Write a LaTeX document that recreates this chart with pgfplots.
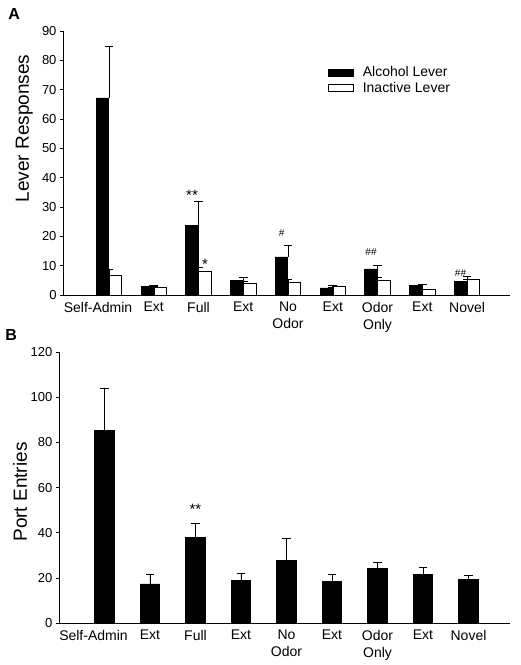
\documentclass[border=0pt]{standalone}
\usepackage{pgfplots}
\pgfplotsset{compat=1.18}
\usepackage{fontspec}
\setmainfont{Liberation Sans}
\pgfplotsset{
  panel/.style={
    scale only axis,
    axis x line*=bottom, axis y line*=left,
    axis line style={line width=0.8pt, black},
    xtick={1,...,9},
    x tick style={draw=none},
    y tick style={line width=0.8pt, black},
    tick align=outside, major tick length=3.5bp,
    xticklabel style={font=\fontsize{14bp}{17bp}\selectfont, align=center},
    yticklabel style={font=\fontsize{13bp}{15bp}\selectfont},
    /pgf/number format/assume math mode=true,
    ymin=0,
    clip=false,
    error bars/y dir=plus, error bars/y explicit,
    error bars/error bar style={line width=0.8pt, black},
    error bars/error mark options={rotate=90, mark size=4.3bp, line width=0.8pt, black},
    ylabel style={font=\fontsize{19bp}{21bp}\selectfont, anchor=center},
  },
}
\begin{document}
\begin{tikzpicture}
\path[use as bounding box] (0,0) rectangle (521bp,-665bp);

% Panel A
\begin{axis}[panel,
  at={(63.5bp,-295bp)}, anchor=south west,
  width=446.5bp, height=264bp,
  xmin=-0.017, xmax=9.96, ymax=90,
  ytick={0,10,...,90},
  xticklabels={{\makebox[0pt][c]{\hspace*{-22bp}Self-Admin}},Ext,Full,Ext,{No\\Odor},Ext,{Odor\\Only},Ext,Novel},
  ylabel={Lever Responses},
  ylabel style={at={(axis description cs:-0.088,0.631)}},
  legend style={draw=none, fill=none, at={(axis description cs:0.592,0.865)}, anchor=north west,
    font=\fontsize{14bp}{16bp}\selectfont, row sep=4bp, column sep=0bp, inner sep=0pt,
    nodes={inner sep=0pt}},
  legend cell align=left,
  legend image code/.code={\draw[#1] (0bp,-3.5bp) rectangle (25bp,3.5bp); \path (34bp,0bp);},
]
\addplot[ybar, bar width=12.5bp, bar shift=-6.5bp, fill=black, draw=black, line width=0.6pt]
  coordinates {(1,67.2)+-(0,17.7) (2,2.8)+-(0,0.6) (3,23.7)+-(0,8.1) (4,5.0)+-(0,1.0)
               (5,13.0)+-(0,3.8) (6,2.4)+-(0,0.3) (7,8.9)+-(0,1.3) (8,3.3)+-(0,0.2) (9,4.6)+-(0,0.6)};
\addlegendentry{Alcohol Lever}
\addplot[ybar, bar width=12.5bp, bar shift=6.5bp, fill=white, draw=black, line width=0.8pt]
  coordinates {(1,6.7)+-(0,1.9) (2,2.5)+-(0,0.55) (3,8.2)+-(0,1.3) (4,3.8)+-(0,0.9)
               (5,4.3)+-(0,1.0) (6,2.8)+-(0,0.4) (7,5.0)+-(0,0.9) (8,1.8)+-(0,0) (9,5.3)+-(0,1.0)};
\addlegendentry{Inactive Lever}
\node[font=\fontsize{15bp}{15bp}\selectfont] at (axis cs:2.855,34.0) {**};
\node[font=\fontsize{15bp}{15bp}\selectfont] at (axis cs:3.145,10.6) {*};
\node[font=\fontsize{10bp}{10bp}\selectfont] at (axis cs:4.855,21.0) {\#};
\node[font=\fontsize{10bp}{10bp}\selectfont] at (axis cs:6.855,14.6) {\#\#};
\node[font=\fontsize{10bp}{10bp}\selectfont] at (axis cs:8.855,7.6) {\#\#};
\node[anchor=base west, inner sep=0pt, font=\bfseries\fontsize{16bp}{16bp}\selectfont]
  at (axis description cs:-0.124,1.045) {A};
\end{axis}

% Panel B
\begin{axis}[panel,
  at={(59.3bp,-623.3bp)}, anchor=south west,
  width=450.7bp, height=271.3bp,
  xmin=0.007, xmax=9.912, ymax=120,
  ytick={0,20,...,120},
  xticklabels={{\makebox[0pt][c]{\hspace*{-22bp}Self-Admin}},Ext,Full,Ext,{No\\Odor},Ext,{Odor\\Only},Ext,Novel},
  ylabel={Port Entries},
  ylabel style={at={(axis description cs:-0.087,0.484)}},
]
\addplot[ybar, bar width=19.5bp, bar shift=0bp, fill=black, draw=black, line width=0.6pt]
  coordinates {(1,85.4)+-(0,18.7) (2,17.4)+-(0,4.2) (3,38.0)+-(0,6.2) (4,18.9)+-(0,3.0)
               (5,28.0)+-(0,9.4) (6,18.4)+-(0,3.2) (7,24.3)+-(0,2.7) (8,21.6)+-(0,3.3) (9,19.3)+-(0,1.8)};
\node[font=\fontsize{15bp}{15bp}\selectfont] at (axis cs:3,50.5) {**};
\node[anchor=base west, inner sep=0pt, font=\bfseries\fontsize{16bp}{16bp}\selectfont]
  at (axis description cs:-0.120,1.044) {B};
\end{axis}
\end{tikzpicture}
\end{document}
